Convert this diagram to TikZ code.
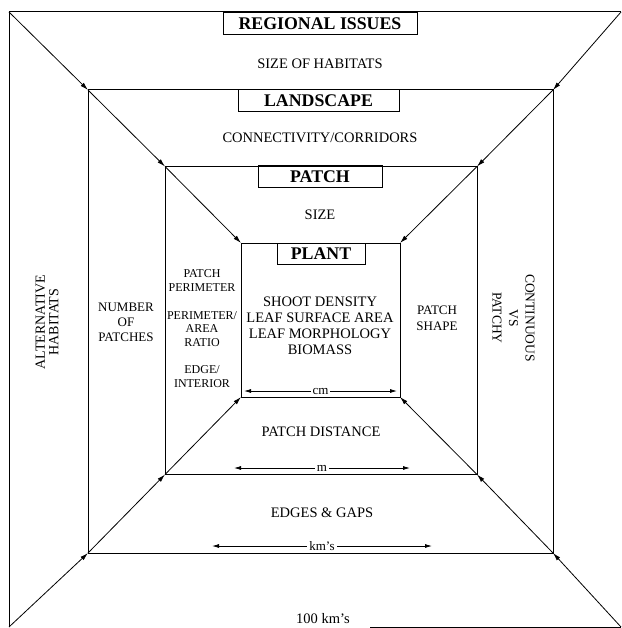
\documentclass[tikz,border=0pt]{standalone}
\usepackage{fontspec}
\setmainfont{Liberation Serif}
\usetikzlibrary{arrows.meta,calc}
\begin{document}
\begin{tikzpicture}[x=1pt,y=-1pt,
  frame/.style={line width=1pt},
  box/.style={draw, line width=1pt, inner sep=0pt, outer sep=0pt},
  titlebox/.style={draw, line width=1pt, inner sep=0pt, outer sep=0pt, anchor=north,
    font=\fontsize{17.8}{20}\selectfont\bfseries},
  lbl/.style={font=\fontsize{14.5}{16}\selectfont, align=center, inner sep=0pt},
  mid/.style={font=\fontsize{13}{15}\selectfont, align=center, inner sep=0pt},
  side/.style={font=\fontsize{12}{13.5}\selectfont, align=center, inner sep=0pt},
  conn/.style={line width=0.8pt, -{Latex[length=8pt,width=4.5pt]}},
  dim/.style={line width=0.8pt, {Latex[length=7pt,width=4pt]}-{Latex[length=7pt,width=4pt]}},
  dimlbl/.style={fill=white, inner sep=2pt, font=\fontsize{13}{15}\selectfont},
]
\useasboundingbox (0,0) rectangle (621,628);

% frames
\node[inner sep=0pt, outer sep=0pt, minimum width=612pt, minimum height=615pt] (outer) at (315,319.5) {};
\draw[frame] (outer.north east) -- (outer.north west) -- (outer.south west);
\draw[frame] ($(outer.south west)!0.59!(outer.south east)$) -- (outer.south east);
\node[box, minimum width=465pt, minimum height=463pt] (land) at (320.5,321.5) {};
\node[box, minimum width=312pt, minimum height=308pt] (patch) at (321,320.5) {};
\node[box, minimum width=159pt, minimum height=154pt] (plant) at (320.5,320) {};

% corner arrows
\foreach \a/\b in {outer/land, land/patch, patch/plant}{
  \draw[conn] (\a.north west) -- (\b.north west);
  \draw[conn] (\a.north east) -- (\b.north east);
  \draw[conn] (\a.south west) -- (\b.south west);
  \draw[conn] (\a.south east) -- (\b.south east);
}

% titles
\node[titlebox, minimum width=194pt, minimum height=22pt] (regional) at (320,12.5) {REGIONAL ISSUES};
\node[titlebox, minimum width=161pt, minimum height=22pt] (landt) at (318.5,90) {LANDSCAPE};
\node[titlebox, minimum width=124pt, minimum height=22pt] (patcht) at (320,166) {PATCH};
\node[titlebox, minimum width=88pt, minimum height=21pt] (plantt) at (321,243) {PLANT};

% labels
\node[lbl] (habitats) at (320,63.5) {SIZE OF HABITATS};
\node[lbl] (corridors) at (320,137.5) {CONNECTIVITY/CORRIDORS};
\node[lbl] (sizep) at (320,215) {SIZE};
\node[lbl, font=\fontsize{14.5}{16}\selectfont] (plantlist) at (320,325.5)
  {SHOOT DENSITY\\LEAF SURFACE AREA\\LEAF MORPHOLOGY\\BIOMASS};
\node[side] (perim) at (202,280.5) {PATCH\\PERIMETER};
\node[side] (ratio) at (202,329) {PERIMETER/\\AREA\\RATIO};
\node[side] (edge) at (202,376.5) {EDGE/\\INTERIOR};
\node[mid] (number) at (126,322) {NUMBER\\OF\\PATCHES};
\node[mid, font=\fontsize{13}{16}\selectfont] (shape) at (437,318) {PATCH\\SHAPE};
\node[lbl, font=\fontsize{14}{13.5}\selectfont, rotate=90] (alt) at (47,322) {ALTERNATIVE\\HABITATS};
\node[lbl, font=\fontsize{13.5}{16.5}\selectfont, rotate=-90] (cont) at (513.5,318) {CONTINUOUS\\VS\\PATCHY};
\node[lbl] (distance) at (321,432) {PATCH DISTANCE};
\node[lbl] (gaps) at (322,513) {EDGES \& GAPS};
\node[lbl] (hundred) at (323,619) {100 km’s};

% scale arrows
\coordinate (cmL) at (244,391);
\coordinate (cmR) at (397,391);
\draw[dim] (cmL) -- node[dimlbl] (cmlbl) {cm} (cmR);
\coordinate (mL) at (234,468);
\coordinate (mR) at (410,468);
\draw[dim] (mL) -- node[dimlbl] (mlbl) {m} (mR);
\coordinate (kmL) at (212,546);
\coordinate (kmR) at (432,546);
\draw[dim] (kmL) -- node[dimlbl] (kmlbl) {km’s} (kmR);
\end{tikzpicture}
\end{document}
